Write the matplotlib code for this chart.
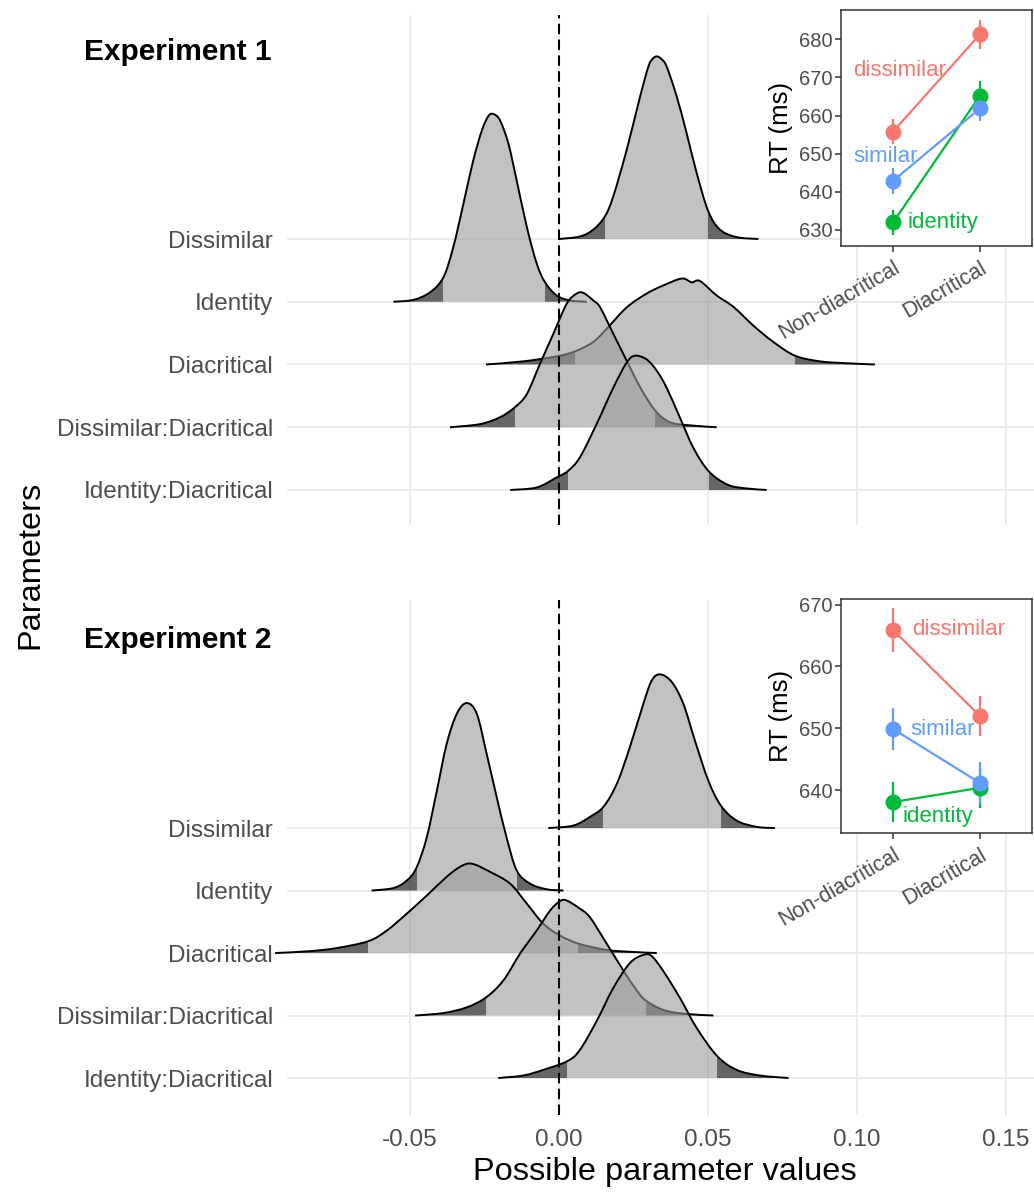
import numpy as np
import matplotlib.pyplot as plt
from matplotlib.path import Path
from matplotlib.patches import PathPatch, Rectangle

plt.rcParams['font.family'] = ['Liberation Sans', 'DejaVu Sans']

# parameter names, bottom row first
params = ['Identity:Diacritical', 'Dissimilar:Diacritical', 'Diacritical',
          'Identity', 'Dissimilar']

# ---- Experiment 1 posterior densities (x value, ridge height in row units) ----
e1_dissim_x = [0.000, 0.007, 0.0115, 0.0154, 0.0182, 0.0227, 0.0272, 0.030, 0.0314,
               0.0328, 0.0343, 0.0361, 0.0395, 0.0428, 0.0462, 0.0501, 0.054, 0.0596, 0.0669]
e1_dissim_h = [0, 0.04, 0.15, 0.36, 0.68, 1.42, 2.27, 2.75, 2.87,
               2.91, 2.87, 2.75, 2.27, 1.69, 1.05, 0.44, 0.15, 0.03, 0]
e1_dissim_ci = (0.0154, 0.0501)

e1_ident_x = [-0.0556, -0.0489, -0.0433, -0.0388, -0.0355, -0.0321, -0.0288, -0.0259, -0.0237,
              -0.0220, -0.0198, -0.017, -0.0142, -0.0108, -0.0075, -0.0047, -0.0008, 0.0037, 0.0093]
e1_ident_h = [0, 0.03, 0.15, 0.39, 0.87, 1.56, 2.25, 2.73, 2.96,
              2.99, 2.89, 2.52, 1.93, 1.19, 0.61, 0.31, 0.10, 0.02, 0]
e1_ident_ci = (-0.0388, -0.0047)

e1_diac_x = [-0.0245, -0.012, -0.0008, 0.0054, 0.0115, 0.016, 0.0227, 0.0294, 0.035, 0.0412,
             0.0445, 0.0473, 0.0529, 0.0585, 0.0652, 0.0719, 0.0792, 0.0876, 0.0965, 0.106]
e1_diac_h = [0, 0.05, 0.13, 0.21, 0.36, 0.57, 0.91, 1.13, 1.26, 1.37,
             1.31, 1.33, 1.10, 0.92, 0.62, 0.36, 0.14, 0.05, 0.02, 0]
e1_diac_ci = (0.0054, 0.0792)

e1_dissdiac_x = [-0.0366, -0.0265, -0.0198, -0.0148, -0.0108, -0.0064, -0.0019, 0.0026, 0.0059,
                 0.0082, 0.0115, 0.0138, 0.0182, 0.0227, 0.0272, 0.0322, 0.0372, 0.044, 0.0529]
e1_dissdiac_h = [0, 0.05, 0.16, 0.32, 0.53, 1.01, 1.49, 1.97, 2.13,
                 2.14, 2.02, 1.91, 1.49, 1.06, 0.64, 0.27, 0.08, 0.03, 0]
e1_dissdiac_ci = (-0.0148, 0.0322)

e1_identdiac_x = [-0.0164, -0.0075, -0.0008, 0.0029, 0.007, 0.0126, 0.0182, 0.0227, 0.0255,
                  0.0294, 0.0328, 0.0361, 0.0406, 0.0451, 0.0502, 0.0563, 0.0618, 0.0697]
e1_identdiac_h = [0, 0.04, 0.20, 0.30, 0.52, 1.05, 1.63, 2.03, 2.14,
                  2.08, 1.90, 1.63, 1.15, 0.67, 0.30, 0.09, 0.03, 0]
e1_identdiac_ci = (0.0029, 0.0502)

# ---- Experiment 2 ----
e2_dissim_x = [-0.0036, 0.0048, 0.0104, 0.0149, 0.0194, 0.0238, 0.0283, 0.0311, 0.0339,
               0.0378, 0.0417, 0.0456, 0.0501, 0.0543, 0.0596, 0.0663, 0.0725]
e2_dissim_h = [0, 0.04, 0.18, 0.34, 0.71, 1.30, 1.99, 2.36, 2.46,
               2.34, 1.99, 1.40, 0.76, 0.36, 0.12, 0.02, 0]
e2_dissim_ci = (0.0149, 0.0543)

e2_ident_x = [-0.0629, -0.0556, -0.0511, -0.0478, -0.0444, -0.041, -0.0377, -0.0343, -0.031,
              -0.0276, -0.0243, -0.0209, -0.0176, -0.0142, -0.0097, -0.0041, 0.0015]
e2_ident_h = [0, 0.04, 0.16, 0.37, 0.85, 1.60, 2.35, 2.83, 3.00,
              2.83, 2.19, 1.49, 0.85, 0.32, 0.11, 0.02, 0]
e2_ident_ci = (-0.0478, -0.0142)

e2_diac_x = [-0.0953, -0.0836, -0.0746, -0.064, -0.0578, -0.0511, -0.0444, -0.0377, -0.0332, -0.0293,
             -0.0232, -0.0164, -0.0108, -0.0053, 0.0003, 0.0065, 0.016, 0.0238, 0.0328]
e2_diac_h = [0, 0.03, 0.08, 0.19, 0.36, 0.63, 0.92, 1.22, 1.38, 1.43,
             1.30, 1.11, 0.79, 0.47, 0.28, 0.15, 0.05, 0.02, 0]
e2_diac_ci = (-0.064, 0.0065)

e2_dissdiac_x = [-0.0483, -0.0388, -0.031, -0.0245, -0.0187, -0.0131, -0.0075, -0.003, 0.0003,
                 0.0026, 0.007, 0.0104, 0.016, 0.0216, 0.0261, 0.0291, 0.035, 0.0417, 0.0518]
e2_dissdiac_h = [0, 0.04, 0.13, 0.29, 0.56, 0.99, 1.36, 1.68, 1.83,
                 1.84, 1.71, 1.57, 1.15, 0.72, 0.40, 0.24, 0.09, 0.03, 0]
e2_dissdiac_ci = (-0.0245, 0.0291)

e2_identdiac_x = [-0.0204, -0.012, -0.0053, 0.0028, 0.007, 0.0126, 0.0182, 0.0238, 0.0283,
                  0.0311, 0.035, 0.0406, 0.0462, 0.0531, 0.0596, 0.0674, 0.077]
e2_identdiac_h = [0, 0.04, 0.13, 0.27, 0.45, 0.91, 1.44, 1.84, 1.97,
                  1.95, 1.71, 1.28, 0.80, 0.35, 0.13, 0.04, 0]
e2_identdiac_ci = (0.0028, 0.0531)

# ---- inset RT data (ms) ----
conditions = ['Non-diacritical', 'Diacritical']
groups = ['dissimilar', 'identity', 'similar']
group_colors = ['#F8766D', '#00BA38', '#619CFF']

e1_rt = [[655.8, 681.3], [632.0, 665.2], [642.9, 661.9]]
e1_err = [[3.2, 3.8], [3.2, 3.8], [3.4, 3.3]]
e1_label_pos = [(0.54, 671.9), (1.17, 631.9), (0.54, 649.2)]

e2_rt = [[665.9, 652.0], [638.1, 640.4], [649.9, 641.2]]
e2_err = [[3.6, 3.3], [3.2, 3.2], [3.4, 3.4]]
e2_label_pos = [(1.22, 665.9), (1.11, 635.8), (1.20, 649.8)]

W, H = 1034, 1193
fig = plt.figure(figsize=(W / 100, H / 100), dpi=100)


def curve_path(xs, ys):
    # smooth curve through the read points (catmull-rom as bezier)
    p = np.column_stack([xs, ys])
    n = len(p)
    verts = [p[0]]
    codes = [Path.MOVETO]
    for i in range(n - 1):
        p0 = p[max(i - 1, 0)]
        p1 = p[i]
        p2 = p[i + 1]
        p3 = p[min(i + 2, n - 1)]
        verts += [p1 + (p2 - p0) / 6, p2 - (p3 - p1) / 6, p2]
        codes += [Path.CURVE4] * 3
    return verts, codes


def ridge_panel(rect, ridges, ylim, show_x):
    ax = fig.add_axes(rect)
    ax.set_xlim(-0.0913, 0.1594)
    ax.set_ylim(*ylim)
    for s in ax.spines.values():
        s.set_visible(False)
    ax.set_xticks([-0.05, 0, 0.05, 0.10, 0.15])
    ax.set_xticklabels(['-0.05', '0.00', '0.05', '0.10', '0.15'])
    ax.set_yticks(range(1, 6))
    ax.set_yticklabels(params)
    ax.tick_params(length=0, labelsize=17.5, labelcolor='#4D4D4D', pad=10,
                   labelbottom=show_x)
    ax.grid(True, color='#EBEBEB', lw=1.4)
    ax.set_axisbelow(True)
    # top row first so lower rows sit on top
    for i, (row, xs, hs, ci) in enumerate(ridges):
        top = row + np.array(hs)
        verts, codes = curve_path(xs, top)
        z = 2 + i * 0.1
        lo, hi = ci
        area = Path(verts + [(xs[-1], row), (xs[0], row), (xs[0], row)],
                    codes + [Path.LINETO, Path.LINETO, Path.CLOSEPOLY])
        parts = [(-1, lo, 'black'), (lo, hi, '#9A9A9A'), (hi, 1, 'black')]
        for a, b, col in parts:
            patch = PathPatch(area, facecolor=col, alpha=0.6, lw=0, zorder=z)
            ax.add_patch(patch)
            patch.set_clip_path(Rectangle((a, row - 0.05), b - a, 6, transform=ax.transData))
        line = PathPatch(Path(verts, codes), facecolor='none', edgecolor='black',
                         lw=1.4, zorder=z + 0.01, clip_on=False)
        ax.add_patch(line)
    ax.axvline(0, color='black', lw=1.5, ls=(0, (5, 2.6)), zorder=5)
    return ax


def inset(rect, rts, errs, label_pos, yticks, ylim):
    ax = fig.add_axes(rect, zorder=10)
    ax.set_facecolor('white')
    for s in ax.spines.values():
        s.set_color('#333333')
        s.set_linewidth(1.1)
    for g, c, v, e, (lx, ly) in zip(groups, group_colors, rts, errs, label_pos):
        ax.plot([1, 2], v, color=c, lw=1.6)
        ax.errorbar([1, 2], v, yerr=e, fmt='o', ms=10.5, color=c, elinewidth=1.6, capsize=0)
        ax.text(lx, ly, g, color=c, fontsize=16, ha='left', va='center')
    ax.set_xlim(0.4, 2.6)
    ax.set_ylim(*ylim)
    ax.set_xticks([1, 2])
    ax.set_xticklabels(conditions, rotation=30, ha='right', rotation_mode='anchor')
    ax.set_yticks(yticks)
    ax.tick_params(colors='#333333', labelcolor='#4D4D4D', length=4, width=1.1)
    ax.tick_params(axis='y', labelsize=14.5, pad=2)
    ax.tick_params(axis='x', labelsize=15.5, pad=4)
    ax.set_ylabel('RT (ms)', fontsize=18.5, labelpad=4)
    return ax


ridges1 = [
    (5, e1_dissim_x, e1_dissim_h, e1_dissim_ci),
    (4, e1_ident_x, e1_ident_h, e1_ident_ci),
    (3, e1_diac_x, e1_diac_h, e1_diac_ci),
    (2, e1_dissdiac_x, e1_dissdiac_h, e1_dissdiac_ci),
    (1, e1_identdiac_x, e1_identdiac_h, e1_identdiac_ci),
]
ridges2 = [
    (5, e2_dissim_x, e2_dissim_h, e2_dissim_ci),
    (4, e2_ident_x, e2_ident_h, e2_ident_ci),
    (3, e2_diac_x, e2_diac_h, e2_diac_ci),
    (2, e2_dissdiac_x, e2_dissdiac_h, e2_dissdiac_ci),
    (1, e2_identdiac_x, e2_identdiac_h, e2_identdiac_ci),
]

ridge_panel([287 / W, 1 - 525 / H, 747 / W, 510 / H], ridges1, (0.442, 8.57), False)
ridge_panel([287 / W, 1 - 1115 / H, 747 / W, 515 / H], ridges2, (0.408, 8.65), True)

inset([841 / W, 1 - 246 / H, 191 / W, 236 / H], e1_rt, e1_err, e1_label_pos,
      [630, 640, 650, 660, 670, 680], (625.8, 687.7))
inset([841 / W, 1 - 833 / H, 191 / W, 234 / H], e2_rt, e2_err, e2_label_pos,
      [640, 650, 660, 670], (633.1, 670.9))

fig.text(272 / W, 1 - 52 / H, 'Experiment 1', ha='right', va='center',
         fontsize=21.5, fontweight='bold')
fig.text(272 / W, 1 - 640 / H, 'Experiment 2', ha='right', va='center',
         fontsize=21.5, fontweight='bold')
fig.text(30 / W, 1 - 565 / H, 'Parameters', rotation=90, ha='center', va='center',
         fontsize=23.4)
fig.text(665 / W, 1 - 1172 / H, 'Possible parameter values', ha='center', va='center',
         fontsize=23.4)

fig.savefig('out.png', dpi=100)
